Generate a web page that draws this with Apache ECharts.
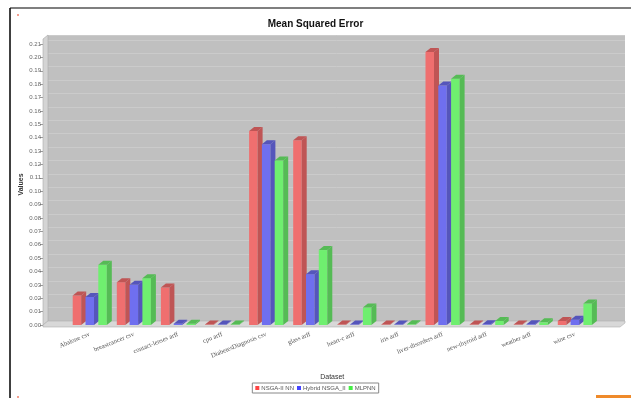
<!DOCTYPE html>
<html>
<head>
<meta charset="utf-8">
<title>Mean Squared Error</title>
<script src="https://cdn.jsdelivr.net/npm/echarts@6/dist/echarts.min.js"></script>
<style>
    html, body { margin: 0; padding: 0; background: #fff; }
    #chart_Mse_Main { width: 631px; height: 398px; }
</style>
</head>
<body>
<div id="chart_Mse_Main"></div>
<script>
var categories = ['Abalone csv', 'breastcancer csv', 'contact-lenses arff', 'cpu arff',
    'DiabetesDiagnosis csv', 'glass arff', 'heart-c arff', 'iris arff',
    'liver-disorders arff', 'new-thyroid arff', 'weather arff', 'wine csv'];
var seriesNames = ['NSGA-II NN', 'Hybrid NSGA_II', 'MLPNN'];
var nsgaValues = [0.022, 0.032, 0.028, 0.0003, 0.145, 0.138, 0.0003, 0.0003, 0.204, 0.0003, 0.0003, 0.003];
var hybridValues = [0.021, 0.030, 0.001, 0.0003, 0.135, 0.038, 0.0003, 0.0003, 0.179, 0.0005, 0.0005, 0.004];
var mlpnnValues = [0.045, 0.035, 0.001, 0.0003, 0.123, 0.056, 0.013, 0.0005, 0.184, 0.003, 0.002, 0.016];

var chart_Mse_Main = null;

// 3D look like the java chart: front face + top + dark side
var DX = 5, DY = 4, BAR_W = 8.5;

function bar3d(offset, front, dark) {
    return function (params, api) {
        var top = api.coord([api.value(0), api.value(1)]);
        var base = api.coord([api.value(0), 0]);
        var x = top[0] + offset;
        var y = top[1];
        var b = base[1];
        return {
            type: 'group',
            children: [{
                type: 'rect',
                shape: { x: x, y: y, width: BAR_W, height: b - y },
                style: { fill: front }
            }, {
                type: 'polygon',
                shape: { points: [[x, y], [x + DX, y - DY], [x + BAR_W + DX, y - DY], [x + BAR_W, y]] },
                style: { fill: dark }
            }, {
                type: 'polygon',
                shape: { points: [[x + BAR_W, y], [x + BAR_W + DX, y - DY], [x + BAR_W + DX, b - DY], [x + BAR_W, b]] },
                style: { fill: dark }
            }]
        };
    };
}

function toData(vals) {
    var data = [];
    for (var i = 0; i < vals.length; i++) {
        data.push([i, vals[i]]);
    }
    return data;
}

chart_Mse_Main = echarts.init(document.getElementById('chart_Mse_Main'));

var option = {
    backgroundColor: '#ffffff',
    animation: false,
    color: ['#ff4444', '#4444ff', '#44ee44'],
    title: {
        text: 'Mean Squared Error',
        left: 'center',
        top: 14,
        textStyle: { fontSize: 10, fontWeight: 'bold', color: '#111', fontFamily: 'Liberation Sans, sans-serif' }
    },
    legend: {
        data: seriesNames,
        bottom: 5,
        left: 'center',
        icon: 'rect',
        itemWidth: 4,
        itemHeight: 4,
        itemGap: 3,
        padding: [2, 3],
        borderColor: '#888',
        borderWidth: 1,
        textStyle: { fontSize: 6, color: '#555', padding: [0, 0, 0, -3] }
    },
    grid: [
        // back wall
        { left: 48, right: 6, top: 35, bottom: 77, show: true, backgroundColor: '#c0c0c0', borderWidth: 0, z: 0 },
        // front (bars + labels)
        { left: 67.65, right: 34.15, top: 44, bottom: 73 }
    ],
    xAxis: [
        { gridIndex: 0, type: 'value', min: 0, max: 1, show: false },
        {
            gridIndex: 1,
            type: 'category',
            data: categories,
            name: 'Dataset',
            nameLocation: 'middle',
            nameGap: 49,
            nameMoveOverlap: false,
            nameTextStyle: { fontSize: 7, color: '#333', fontFamily: 'Liberation Sans, sans-serif' },
            axisLine: { show: false },
            axisTick: { show: false },
            axisLabel: {
                rotate: 22,
                margin: 9,
                interval: 0,
                fontSize: 6.5,
                color: '#555',
                fontFamily: 'Liberation Serif, serif'
            }
        }
    ],
    yAxis: [
        {
            gridIndex: 0,
            type: 'value',
            min: 0,
            max: 0.2137,
            interval: 0.01,
            axisLine: { show: false },
            axisTick: { show: false },
            axisLabel: { show: false },
            splitLine: { show: true, lineStyle: { color: '#cbcbcb', width: 1 } }
        },
        {
            gridIndex: 1,
            type: 'value',
            min: 0,
            max: 0.21,
            interval: 0.01,
            offset: 24.65,
            name: 'Values',
            nameLocation: 'middle',
            nameGap: 18,
            nameMoveOverlap: false,
            nameTextStyle: { fontSize: 7, fontWeight: 'bold', color: '#333', fontFamily: 'Liberation Sans, sans-serif' },
            axisLine: { show: true, lineStyle: { color: '#999', width: 1 } },
            axisTick: { show: true, length: 3, lineStyle: { color: '#999' } },
            axisLabel: {
                margin: 2,
                fontSize: 6,
                color: '#666',
                fontFamily: 'Liberation Sans, sans-serif',
                formatter: function (v) { return v.toFixed(2); }
            },
            splitLine: { show: false }
        }
    ],
    graphic: [
        // left wall
        { type: 'polygon', z: 1, shape: { points: [[43, 39], [48, 35], [48, 321], [43, 325]] }, style: { fill: '#d4d4d4', stroke: '#a8a8a8', lineWidth: 0.6 } },
        // floor
        { type: 'polygon', z: 1, shape: { points: [[43, 325], [48, 321], [625, 321], [625, 323], [620, 327], [43, 327]] }, style: { fill: '#d8d8d8', stroke: '#b0b0b0', lineWidth: 0.6 } },
        // frame of the picture
        { type: 'line', z: 10, shape: { x1: 10, y1: 8, x2: 631, y2: 8 }, style: { stroke: '#000', lineWidth: 1.2 } },
        { type: 'line', z: 10, shape: { x1: 10, y1: 8, x2: 10, y2: 398 }, style: { stroke: '#000', lineWidth: 1.5 } },
        { type: 'rect', z: 10, shape: { x: 17, y: 14, width: 2, height: 2 }, style: { fill: '#f4a090' } },
        { type: 'rect', z: 10, shape: { x: 17, y: 396, width: 2, height: 2 }, style: { fill: '#f4a090' } },
        { type: 'rect', z: 10, shape: { x: 596, y: 395, width: 35, height: 3 }, style: { fill: '#ef8a2a' } }
    ],
    series: [
        {
            name: seriesNames[0], type: 'custom', xAxisIndex: 1, yAxisIndex: 1, z: 5,
            itemStyle: { color: '#ff4444' },
            renderItem: bar3d(-17, '#ef6f6f', '#bf5555'),
            data: toData(nsgaValues)
        },
        {
            name: seriesNames[1], type: 'custom', xAxisIndex: 1, yAxisIndex: 1, z: 5,
            itemStyle: { color: '#4444ff' },
            renderItem: bar3d(-4.2, '#6f6fef', '#5555bb'),
            data: toData(hybridValues)
        },
        {
            name: seriesNames[2], type: 'custom', xAxisIndex: 1, yAxisIndex: 1, z: 5,
            itemStyle: { color: '#44ee44' },
            renderItem: bar3d(8.6, '#6fef6f', '#55bb55'),
            data: toData(mlpnnValues)
        }
    ]
};

chart_Mse_Main.setOption(option);
</script>
</body>
</html>
